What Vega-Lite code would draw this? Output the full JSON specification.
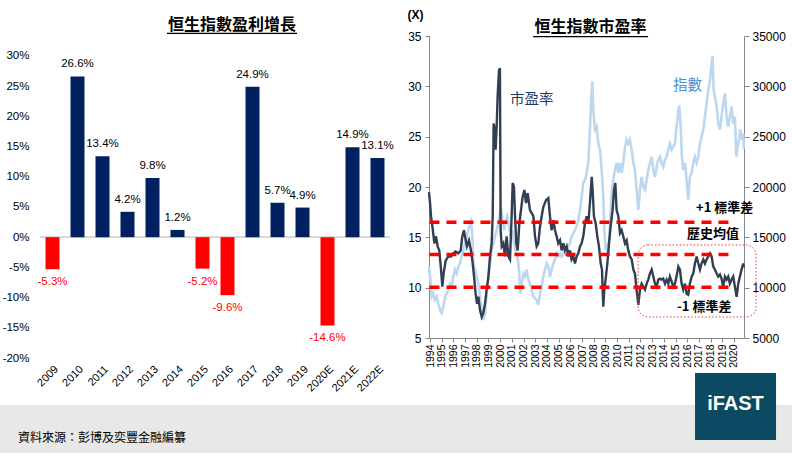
{
  "$schema": "https://vega.github.io/schema/vega-lite/v6.json",
  "padding": {"left": 0, "top": 8, "right": 0, "bottom": 0},
  "bounds": "flush",
  "spacing": 39,
  "datasets": {
    "growth": [
      {"year": "2009", "growth": -0.053},
      {"year": "2010", "growth": 0.266},
      {"year": "2011", "growth": 0.134},
      {"year": "2012", "growth": 0.042},
      {"year": "2013", "growth": 0.098},
      {"year": "2014", "growth": 0.012},
      {"year": "2015", "growth": -0.052},
      {"year": "2016", "growth": -0.096},
      {"year": "2017", "growth": 0.249},
      {"year": "2018", "growth": 0.057},
      {"year": "2019", "growth": 0.049},
      {"year": "2020E", "growth": -0.146},
      {"year": "2021E", "growth": 0.149},
      {"year": "2022E", "growth": 0.131}
    ],
    "levels": [
      {"name": "+1 sd", "level": 16.5},
      {"name": "mean", "level": 13.3},
      {"name": "-1 sd", "level": 10.05}
    ],
    "pe": [
      {"t": 1993.91, "pe": 19.5}, {"t": 1994.0, "pe": 18.4}, {"t": 1994.08, "pe": 17.1}, {"t": 1994.2, "pe": 16.1},
      {"t": 1994.37, "pe": 14.4}, {"t": 1994.51, "pe": 15.1}, {"t": 1994.65, "pe": 14.1}, {"t": 1994.79, "pe": 13.7},
      {"t": 1994.94, "pe": 11.8}, {"t": 1995.05, "pe": 10.1}, {"t": 1995.16, "pe": 11.4}, {"t": 1995.34, "pe": 12.7},
      {"t": 1995.56, "pe": 13.1}, {"t": 1995.79, "pe": 13.1}, {"t": 1995.99, "pe": 13.4}, {"t": 1996.19, "pe": 13.6},
      {"t": 1996.42, "pe": 13.4}, {"t": 1996.62, "pe": 13.7}, {"t": 1996.76, "pe": 15.1}, {"t": 1996.9, "pe": 15.7},
      {"t": 1997.02, "pe": 14.9}, {"t": 1997.16, "pe": 14.1}, {"t": 1997.33, "pe": 14.7}, {"t": 1997.5, "pe": 13.7},
      {"t": 1997.65, "pe": 12.4}, {"t": 1997.79, "pe": 10.8}, {"t": 1997.9, "pe": 9.4}, {"t": 1998.02, "pe": 8.4},
      {"t": 1998.13, "pe": 9.1}, {"t": 1998.27, "pe": 7.8}, {"t": 1998.42, "pe": 7.1}, {"t": 1998.56, "pe": 7.5},
      {"t": 1998.7, "pe": 8.4}, {"t": 1998.84, "pe": 9.8}, {"t": 1998.99, "pe": 11.1}, {"t": 1999.13, "pe": 13.1},
      {"t": 1999.27, "pe": 14.4}, {"t": 1999.36, "pe": 17.1}, {"t": 1999.44, "pe": 26.3}, {"t": 1999.53, "pe": 25.7},
      {"t": 1999.61, "pe": 23.7}, {"t": 1999.7, "pe": 26.0}, {"t": 1999.78, "pe": 29.0}, {"t": 1999.9, "pe": 31.6},
      {"t": 1999.98, "pe": 31.8}, {"t": 2000.04, "pe": 15.7}, {"t": 2000.13, "pe": 14.1}, {"t": 2000.27, "pe": 14.4},
      {"t": 2000.41, "pe": 13.1}, {"t": 2000.55, "pe": 15.1}, {"t": 2000.7, "pe": 13.1}, {"t": 2000.84, "pe": 12.8},
      {"t": 2000.98, "pe": 17.1}, {"t": 2001.07, "pe": 20.4}, {"t": 2001.18, "pe": 20.0}, {"t": 2001.27, "pe": 17.1},
      {"t": 2001.38, "pe": 14.4}, {"t": 2001.5, "pe": 13.7}, {"t": 2001.64, "pe": 16.4}, {"t": 2001.78, "pe": 17.7},
      {"t": 2001.92, "pe": 19.0}, {"t": 2002.07, "pe": 19.7}, {"t": 2002.21, "pe": 18.4}, {"t": 2002.35, "pe": 19.4},
      {"t": 2002.55, "pe": 17.7}, {"t": 2002.84, "pe": 17.1}, {"t": 2002.98, "pe": 15.1}, {"t": 2003.12, "pe": 14.1},
      {"t": 2003.26, "pe": 14.4}, {"t": 2003.41, "pe": 16.1}, {"t": 2003.55, "pe": 17.1}, {"t": 2003.69, "pe": 18.0},
      {"t": 2003.92, "pe": 18.7}, {"t": 2004.12, "pe": 18.9}, {"t": 2004.26, "pe": 17.1}, {"t": 2004.4, "pe": 15.7},
      {"t": 2004.55, "pe": 16.7}, {"t": 2004.69, "pe": 15.7}, {"t": 2004.83, "pe": 15.1}, {"t": 2004.97, "pe": 14.4},
      {"t": 2005.12, "pe": 14.7}, {"t": 2005.26, "pe": 13.7}, {"t": 2005.4, "pe": 14.4}, {"t": 2005.54, "pe": 13.7},
      {"t": 2005.69, "pe": 14.1}, {"t": 2005.83, "pe": 13.1}, {"t": 2005.97, "pe": 13.7}, {"t": 2006.11, "pe": 12.8},
      {"t": 2006.26, "pe": 13.1}, {"t": 2006.4, "pe": 12.4}, {"t": 2006.54, "pe": 13.1}, {"t": 2006.68, "pe": 13.4},
      {"t": 2006.83, "pe": 14.1}, {"t": 2006.97, "pe": 14.4}, {"t": 2007.11, "pe": 15.1}, {"t": 2007.25, "pe": 16.4},
      {"t": 2007.4, "pe": 17.1}, {"t": 2007.54, "pe": 16.4}, {"t": 2007.68, "pe": 18.4}, {"t": 2007.83, "pe": 21.0},
      {"t": 2007.91, "pe": 19.7}, {"t": 2008.02, "pe": 17.1}, {"t": 2008.17, "pe": 16.4}, {"t": 2008.31, "pe": 15.1},
      {"t": 2008.45, "pe": 14.1}, {"t": 2008.6, "pe": 12.4}, {"t": 2008.71, "pe": 11.8}, {"t": 2008.82, "pe": 8.1},
      {"t": 2008.91, "pe": 9.8}, {"t": 2009.02, "pe": 10.8}, {"t": 2009.17, "pe": 12.4}, {"t": 2009.31, "pe": 14.4},
      {"t": 2009.45, "pe": 16.1}, {"t": 2009.62, "pe": 17.7}, {"t": 2009.74, "pe": 19.7}, {"t": 2009.85, "pe": 20.4},
      {"t": 2009.96, "pe": 17.7}, {"t": 2010.11, "pe": 17.1}, {"t": 2010.25, "pe": 15.4}, {"t": 2010.39, "pe": 15.7},
      {"t": 2010.53, "pe": 15.1}, {"t": 2010.68, "pe": 14.4}, {"t": 2010.82, "pe": 14.7}, {"t": 2010.96, "pe": 13.7},
      {"t": 2011.1, "pe": 13.1}, {"t": 2011.25, "pe": 12.8}, {"t": 2011.39, "pe": 11.8}, {"t": 2011.53, "pe": 11.4},
      {"t": 2011.67, "pe": 9.8}, {"t": 2011.82, "pe": 8.3}, {"t": 2011.96, "pe": 9.8}, {"t": 2012.1, "pe": 10.4},
      {"t": 2012.24, "pe": 10.1}, {"t": 2012.39, "pe": 9.8}, {"t": 2012.53, "pe": 10.4}, {"t": 2012.67, "pe": 10.8},
      {"t": 2012.81, "pe": 11.4}, {"t": 2012.96, "pe": 11.8}, {"t": 2013.1, "pe": 11.1}, {"t": 2013.24, "pe": 10.4},
      {"t": 2013.38, "pe": 10.1}, {"t": 2013.53, "pe": 10.8}, {"t": 2013.67, "pe": 10.9}, {"t": 2013.81, "pe": 10.8},
      {"t": 2013.95, "pe": 10.9}, {"t": 2014.1, "pe": 10.4}, {"t": 2014.24, "pe": 10.8}, {"t": 2014.38, "pe": 10.4},
      {"t": 2014.52, "pe": 11.1}, {"t": 2014.67, "pe": 10.6}, {"t": 2014.81, "pe": 10.1}, {"t": 2014.95, "pe": 10.4},
      {"t": 2015.09, "pe": 11.1}, {"t": 2015.24, "pe": 12.1}, {"t": 2015.38, "pe": 11.8}, {"t": 2015.52, "pe": 10.4},
      {"t": 2015.66, "pe": 9.8}, {"t": 2015.81, "pe": 10.4}, {"t": 2015.95, "pe": 9.4}, {"t": 2016.09, "pe": 9.3},
      {"t": 2016.23, "pe": 10.4}, {"t": 2016.38, "pe": 11.1}, {"t": 2016.52, "pe": 11.4}, {"t": 2016.66, "pe": 12.4},
      {"t": 2016.81, "pe": 13.1}, {"t": 2016.95, "pe": 12.4}, {"t": 2017.09, "pe": 11.8}, {"t": 2017.23, "pe": 12.4},
      {"t": 2017.38, "pe": 12.8}, {"t": 2017.52, "pe": 12.4}, {"t": 2017.66, "pe": 12.8}, {"t": 2017.8, "pe": 13.1},
      {"t": 2017.95, "pe": 13.4}, {"t": 2018.09, "pe": 13.1}, {"t": 2018.23, "pe": 12.1}, {"t": 2018.37, "pe": 11.8},
      {"t": 2018.52, "pe": 11.4}, {"t": 2018.66, "pe": 11.1}, {"t": 2018.8, "pe": 11.3}, {"t": 2018.94, "pe": 10.9},
      {"t": 2019.08, "pe": 10.1}, {"t": 2019.23, "pe": 11.1}, {"t": 2019.37, "pe": 10.8}, {"t": 2019.51, "pe": 11.1},
      {"t": 2019.65, "pe": 10.4}, {"t": 2019.8, "pe": 10.8}, {"t": 2019.94, "pe": 11.1}, {"t": 2020.08, "pe": 10.1},
      {"t": 2020.23, "pe": 9.1}, {"t": 2020.37, "pe": 10.4}, {"t": 2020.51, "pe": 11.1}, {"t": 2020.65, "pe": 11.8},
      {"t": 2020.8, "pe": 12.4}, {"t": 2020.85, "pe": 12.0}
    ],
    "hsi": [
      {"t": 1993.91, "idx": 12100}, {"t": 1994.0, "idx": 11100}, {"t": 1994.14, "idx": 9100}, {"t": 1994.28, "idx": 9400},
      {"t": 1994.42, "idx": 8800}, {"t": 1994.57, "idx": 9100}, {"t": 1994.71, "idx": 8400}, {"t": 1994.85, "idx": 7800},
      {"t": 1994.99, "idx": 7500}, {"t": 1995.14, "idx": 8100}, {"t": 1995.28, "idx": 9100}, {"t": 1995.42, "idx": 9400},
      {"t": 1995.56, "idx": 9800}, {"t": 1995.71, "idx": 10400}, {"t": 1995.85, "idx": 10100}, {"t": 1995.99, "idx": 11100},
      {"t": 1996.13, "idx": 11800}, {"t": 1996.28, "idx": 11400}, {"t": 1996.42, "idx": 12100}, {"t": 1996.56, "idx": 12400},
      {"t": 1996.7, "idx": 13100}, {"t": 1996.85, "idx": 13700}, {"t": 1996.99, "idx": 14400}, {"t": 1997.13, "idx": 15100},
      {"t": 1997.27, "idx": 15700}, {"t": 1997.42, "idx": 16400}, {"t": 1997.5, "idx": 16600}, {"t": 1997.62, "idx": 15100},
      {"t": 1997.7, "idx": 12400}, {"t": 1997.85, "idx": 11800}, {"t": 1997.99, "idx": 11100}, {"t": 1998.13, "idx": 10400},
      {"t": 1998.27, "idx": 9100}, {"t": 1998.42, "idx": 7800}, {"t": 1998.56, "idx": 6800}, {"t": 1998.7, "idx": 7500},
      {"t": 1998.84, "idx": 9400}, {"t": 1998.99, "idx": 10800}, {"t": 1999.13, "idx": 12400}, {"t": 1999.27, "idx": 13700},
      {"t": 1999.41, "idx": 14400}, {"t": 1999.56, "idx": 15100}, {"t": 1999.7, "idx": 15700}, {"t": 1999.84, "idx": 16400},
      {"t": 1999.98, "idx": 17400}, {"t": 2000.07, "idx": 17900}, {"t": 2000.18, "idx": 17100}, {"t": 2000.33, "idx": 15700},
      {"t": 2000.47, "idx": 16700}, {"t": 2000.61, "idx": 17100}, {"t": 2000.75, "idx": 16100}, {"t": 2000.9, "idx": 15100},
      {"t": 2001.04, "idx": 15700}, {"t": 2001.18, "idx": 14400}, {"t": 2001.32, "idx": 13700}, {"t": 2001.47, "idx": 13100},
      {"t": 2001.61, "idx": 11800}, {"t": 2001.72, "idx": 9400}, {"t": 2001.84, "idx": 10400}, {"t": 2001.98, "idx": 11400},
      {"t": 2002.12, "idx": 11100}, {"t": 2002.26, "idx": 11800}, {"t": 2002.41, "idx": 10800}, {"t": 2002.55, "idx": 10400},
      {"t": 2002.84, "idx": 9100}, {"t": 2003.12, "idx": 8800}, {"t": 2003.26, "idx": 8300}, {"t": 2003.41, "idx": 9400},
      {"t": 2003.55, "idx": 10100}, {"t": 2003.69, "idx": 11100}, {"t": 2003.83, "idx": 11800}, {"t": 2003.98, "idx": 12400},
      {"t": 2004.12, "idx": 12100}, {"t": 2004.26, "idx": 11100}, {"t": 2004.4, "idx": 11800}, {"t": 2004.55, "idx": 12400},
      {"t": 2004.69, "idx": 12800}, {"t": 2004.83, "idx": 13400}, {"t": 2004.97, "idx": 13100}, {"t": 2005.12, "idx": 13400},
      {"t": 2005.26, "idx": 13100}, {"t": 2005.4, "idx": 13400}, {"t": 2005.54, "idx": 14100}, {"t": 2005.69, "idx": 13700},
      {"t": 2005.83, "idx": 14100}, {"t": 2005.97, "idx": 14400}, {"t": 2006.11, "idx": 15100}, {"t": 2006.26, "idx": 15400},
      {"t": 2006.4, "idx": 15700}, {"t": 2006.54, "idx": 16100}, {"t": 2006.68, "idx": 16700}, {"t": 2006.83, "idx": 17700},
      {"t": 2006.97, "idx": 19000}, {"t": 2007.11, "idx": 20400}, {"t": 2007.25, "idx": 20700}, {"t": 2007.4, "idx": 21400},
      {"t": 2007.54, "idx": 22400}, {"t": 2007.68, "idx": 25700}, {"t": 2007.8, "idx": 29000}, {"t": 2007.88, "idx": 30500},
      {"t": 2007.97, "idx": 27600}, {"t": 2008.11, "idx": 25700}, {"t": 2008.25, "idx": 26000}, {"t": 2008.4, "idx": 24300},
      {"t": 2008.54, "idx": 23700}, {"t": 2008.68, "idx": 21700}, {"t": 2008.82, "idx": 19000}, {"t": 2008.91, "idx": 15700},
      {"t": 2009.02, "idx": 13700}, {"t": 2009.11, "idx": 14400}, {"t": 2009.22, "idx": 13100}, {"t": 2009.34, "idx": 15100},
      {"t": 2009.45, "idx": 17700}, {"t": 2009.56, "idx": 19700}, {"t": 2009.68, "idx": 20700}, {"t": 2009.82, "idx": 21700},
      {"t": 2009.96, "idx": 22400}, {"t": 2010.11, "idx": 21400}, {"t": 2010.25, "idx": 22400}, {"t": 2010.39, "idx": 21400},
      {"t": 2010.53, "idx": 22400}, {"t": 2010.68, "idx": 24000}, {"t": 2010.82, "idx": 24700}, {"t": 2010.96, "idx": 24300},
      {"t": 2011.1, "idx": 24700}, {"t": 2011.25, "idx": 23700}, {"t": 2011.39, "idx": 22400}, {"t": 2011.53, "idx": 21700},
      {"t": 2011.67, "idx": 19700}, {"t": 2011.82, "idx": 17700}, {"t": 2011.96, "idx": 19700}, {"t": 2012.1, "idx": 21000},
      {"t": 2012.24, "idx": 20000}, {"t": 2012.39, "idx": 19700}, {"t": 2012.53, "idx": 20700}, {"t": 2012.67, "idx": 21700},
      {"t": 2012.81, "idx": 22400}, {"t": 2012.96, "idx": 23000}, {"t": 2013.1, "idx": 21700}, {"t": 2013.24, "idx": 21000},
      {"t": 2013.38, "idx": 22000}, {"t": 2013.53, "idx": 22700}, {"t": 2013.67, "idx": 23000}, {"t": 2013.81, "idx": 22400},
      {"t": 2013.95, "idx": 22000}, {"t": 2014.1, "idx": 22700}, {"t": 2014.24, "idx": 23000}, {"t": 2014.38, "idx": 23700},
      {"t": 2014.52, "idx": 24300}, {"t": 2014.67, "idx": 23700}, {"t": 2014.81, "idx": 24000}, {"t": 2014.95, "idx": 24300},
      {"t": 2015.09, "idx": 26000}, {"t": 2015.24, "idx": 27600}, {"t": 2015.32, "idx": 28100}, {"t": 2015.44, "idx": 26000},
      {"t": 2015.55, "idx": 23000}, {"t": 2015.66, "idx": 21700}, {"t": 2015.81, "idx": 22400}, {"t": 2015.95, "idx": 20700},
      {"t": 2016.09, "idx": 18700}, {"t": 2016.23, "idx": 21000}, {"t": 2016.38, "idx": 21400}, {"t": 2016.52, "idx": 22400},
      {"t": 2016.66, "idx": 23000}, {"t": 2016.81, "idx": 22400}, {"t": 2016.95, "idx": 23000}, {"t": 2017.09, "idx": 24300},
      {"t": 2017.23, "idx": 25000}, {"t": 2017.38, "idx": 25700}, {"t": 2017.52, "idx": 27000}, {"t": 2017.66, "idx": 28300},
      {"t": 2017.8, "idx": 29600}, {"t": 2017.95, "idx": 30600}, {"t": 2018.09, "idx": 32300}, {"t": 2018.17, "idx": 33000},
      {"t": 2018.26, "idx": 29600}, {"t": 2018.37, "idx": 29000}, {"t": 2018.52, "idx": 28000}, {"t": 2018.66, "idx": 26300},
      {"t": 2018.8, "idx": 25700}, {"t": 2018.94, "idx": 27000}, {"t": 2019.08, "idx": 28300}, {"t": 2019.23, "idx": 29300},
      {"t": 2019.37, "idx": 27000}, {"t": 2019.51, "idx": 26000}, {"t": 2019.65, "idx": 27000}, {"t": 2019.8, "idx": 28000},
      {"t": 2019.94, "idx": 26300}, {"t": 2020.08, "idx": 27000}, {"t": 2020.2, "idx": 23000}, {"t": 2020.31, "idx": 24000},
      {"t": 2020.43, "idx": 24700}, {"t": 2020.54, "idx": 25700}, {"t": 2020.65, "idx": 24700}, {"t": 2020.8, "idx": 25300},
      {"t": 2020.85, "idx": 23800}
    ]
  },
  "hconcat": [
    {
      "width": 350,
      "height": 322,
      "data": {"name": "growth"},
      "title": {
        "text": "恒生指數盈利增長",
        "font": "Noto Sans CJK TC",
        "fontSize": 16,
        "fontWeight": "bold",
        "color": "#000000",
        "frame": "group",
        "anchor": "middle",
        "dx": 17,
        "offset": 3
      },
      "layer": [
        {
          "mark": {"type": "rule", "color": "#d9d9d9", "strokeWidth": 1},
          "encoding": {
            "y": {
              "datum": 0, "type": "quantitative",
              "axis": {"title": null, "format": ".0%", "labelOverlap": false, "values": [-0.2, -0.15, -0.1, -0.05, 0, 0.05, 0.1, 0.15, 0.2, 0.25, 0.3], "domain": false, "ticks": false, "labelPadding": 11, "labelFontSize": 11.5}
            }
          }
        },
        {
          "mark": {"type": "bar"},
          "encoding": {
            "x": {
              "field": "year", "type": "ordinal", "sort": null,
              "scale": {"paddingInner": 0.44, "paddingOuter": 0.22},
              "axis": {"title": null, "labelAngle": -45, "domain": false, "ticks": false, "labelFontSize": 11, "labelPadding": 5}
            },
            "y": {
              "field": "growth", "type": "quantitative",
              "scale": {"domain": [-0.2, 0.333], "nice": false, "zero": false},
              "axis": {"title": null, "format": ".0%", "labelOverlap": false, "values": [-0.2, -0.15, -0.1, -0.05, 0, 0.05, 0.1, 0.15, 0.2, 0.25, 0.3], "domain": false, "ticks": false, "labelPadding": 11, "labelFontSize": 11.5}
            },
            "color": {"condition": {"test": "datum.growth < 0", "value": "#ff0000"}, "value": "#002060"}
          }
        },
        {
          "transform": [{"filter": "datum.growth >= 0"}],
          "mark": {"type": "text", "baseline": "middle", "dy": -12, "fontSize": 11.5, "color": "#000000"},
          "encoding": {
            "x": {
              "field": "year", "type": "ordinal", "sort": null,
              "axis": {"title": null, "labelAngle": -45, "domain": false, "ticks": false, "labelFontSize": 11, "labelPadding": 5}
            },
            "y": {
              "field": "growth", "type": "quantitative",
              "axis": {"title": null, "format": ".0%", "labelOverlap": false, "values": [-0.2, -0.15, -0.1, -0.05, 0, 0.05, 0.1, 0.15, 0.2, 0.25, 0.3], "domain": false, "ticks": false, "labelPadding": 11, "labelFontSize": 11.5}
            },
            "text": {"field": "growth", "format": ".1%"}
          }
        },
        {
          "transform": [{"filter": "datum.growth < 0"}],
          "mark": {"type": "text", "baseline": "middle", "dy": 13, "fontSize": 11.5, "color": "#ff0000"},
          "encoding": {
            "x": {
              "field": "year", "type": "ordinal", "sort": null,
              "axis": {"title": null, "labelAngle": -45, "domain": false, "ticks": false, "labelFontSize": 11, "labelPadding": 5}
            },
            "y": {
              "field": "growth", "type": "quantitative",
              "axis": {"title": null, "format": ".0%", "labelOverlap": false, "values": [-0.2, -0.15, -0.1, -0.05, 0, 0.05, 0.1, 0.15, 0.2, 0.25, 0.3], "domain": false, "ticks": false, "labelPadding": 11, "labelFontSize": 11.5}
            },
            "text": {"field": "growth", "format": ".1%"}
          }
        }
      ]
    },
    {
      "width": 315,
      "height": 302,
      "title": {
        "text": "恒生指數市盈率",
        "font": "Noto Sans CJK TC",
        "fontSize": 16,
        "fontWeight": "bold",
        "color": "#000000",
        "frame": "group",
        "anchor": "middle",
        "dx": 4,
        "offset": -27
      },
      "layer": [
        {
          "data": {"name": "hsi"},
          "mark": {"type": "line", "color": "#bdd7ee", "strokeWidth": 2.6},
          "encoding": {
            "x": {
              "field": "t", "type": "quantitative",
              "scale": {"domain": [1993.91, 2020.86], "nice": false, "zero": false},
              "axis": {"title": null, "format": "d", "values": [1994, 1995, 1996, 1997, 1998, 1999, 2000, 2001, 2002, 2003, 2004, 2005, 2006, 2007, 2008, 2009, 2010, 2011, 2012, 2013, 2014, 2015, 2016, 2017, 2018, 2019, 2020], "labelAngle": 270, "labelFontSize": 10.5, "tickSize": 4, "labelPadding": 2, "labelOverlap": false}
            },
            "y": {
              "field": "idx", "type": "quantitative",
              "scale": {"domain": [5000, 35000], "nice": false, "zero": false},
              "axis": {
                "orient": "right", "title": null, "format": "d",
                "values": [5000, 10000, 15000, 20000, 25000, 30000, 35000],
                "tickSize": 5, "labelPadding": 3, "labelFontSize": 12
              }
            }
          }
        },
        {
          "data": {"name": "pe"},
          "mark": {"type": "line", "color": "#323e52", "strokeWidth": 2.4},
          "encoding": {
            "x": {
              "field": "t", "type": "quantitative",
              "axis": {"title": null, "format": "d", "values": [1994, 1995, 1996, 1997, 1998, 1999, 2000, 2001, 2002, 2003, 2004, 2005, 2006, 2007, 2008, 2009, 2010, 2011, 2012, 2013, 2014, 2015, 2016, 2017, 2018, 2019, 2020], "labelAngle": 270, "labelFontSize": 10.5, "tickSize": 4, "labelPadding": 2, "labelOverlap": false}
            },
            "y": {
              "field": "pe", "type": "quantitative",
              "scale": {"domain": [5, 35], "nice": false, "zero": false},
              "axis": {
                "orient": "left", "values": [5, 10, 15, 20, 25, 30, 35],
                "tickSize": 4, "labelPadding": 4, "labelFontSize": 12,
                "title": "(X)", "titleAngle": 0, "titleX": -22, "titleY": -22,
                "titleAlign": "left", "titleBaseline": "middle",
                "titleFontSize": 12, "titleFontWeight": "bold", "titleFont": "Liberation Sans", "titleColor": "#000000"
              }
            }
          }
        },
        {
          "data": {"name": "levels"},
          "mark": {"type": "rule", "color": "#ff0000", "strokeWidth": 3.5, "strokeDash": [10, 7]},
          "encoding": {
            "x": {"datum": 1993.95, "type": "quantitative", "axis": {"title": null, "format": "d", "values": [1994, 1995, 1996, 1997, 1998, 1999, 2000, 2001, 2002, 2003, 2004, 2005, 2006, 2007, 2008, 2009, 2010, 2011, 2012, 2013, 2014, 2015, 2016, 2017, 2018, 2019, 2020], "labelAngle": 270, "labelFontSize": 10.5, "tickSize": 4, "labelPadding": 2, "labelOverlap": false}},
            "x2": {"datum": 2020.0},
            "y": {"field": "level", "type": "quantitative", "scale": {"domain": [5, 35], "nice": false, "zero": false}, "axis": null}
          }
        },
        {
          "data": {"values": [{}]},
          "mark": {"type": "rect", "cornerRadius": 10, "fillOpacity": 0, "stroke": "#e03c3c", "strokeWidth": 1, "strokeDash": [1.5, 2]},
          "encoding": {
            "x": {"datum": 2011.8, "type": "quantitative", "axis": {"title": null, "format": "d", "values": [1994, 1995, 1996, 1997, 1998, 1999, 2000, 2001, 2002, 2003, 2004, 2005, 2006, 2007, 2008, 2009, 2010, 2011, 2012, 2013, 2014, 2015, 2016, 2017, 2018, 2019, 2020], "labelAngle": 270, "labelFontSize": 10.5, "tickSize": 4, "labelPadding": 2, "labelOverlap": false}},
            "x2": {"datum": 2021.89},
            "y": {"datum": 14.24, "type": "quantitative", "scale": {"domain": [5, 35], "nice": false, "zero": false}, "axis": null},
            "y2": {"datum": 7.09}
          }
        },
        {
          "data": {"values": [{}]},
          "mark": {"type": "text", "text": "市盈率", "font": "Noto Sans CJK TC", "fontSize": 14.5, "color": "#1f3864", "align": "left", "baseline": "middle"},
          "encoding": {
            "x": {"datum": 2000.84, "type": "quantitative", "axis": {"title": null, "format": "d", "values": [1994, 1995, 1996, 1997, 1998, 1999, 2000, 2001, 2002, 2003, 2004, 2005, 2006, 2007, 2008, 2009, 2010, 2011, 2012, 2013, 2014, 2015, 2016, 2017, 2018, 2019, 2020], "labelAngle": 270, "labelFontSize": 10.5, "tickSize": 4, "labelPadding": 2, "labelOverlap": false}},
            "y": {"datum": 28.63, "type": "quantitative", "scale": {"domain": [5, 35], "nice": false, "zero": false}, "axis": null}
          }
        },
        {
          "data": {"values": [{}]},
          "mark": {"type": "text", "text": "指數", "font": "Noto Sans CJK TC", "fontSize": 14.5, "color": "#4a8ed3", "align": "left", "baseline": "middle"},
          "encoding": {
            "x": {"datum": 2014.78, "type": "quantitative", "axis": {"title": null, "format": "d", "values": [1994, 1995, 1996, 1997, 1998, 1999, 2000, 2001, 2002, 2003, 2004, 2005, 2006, 2007, 2008, 2009, 2010, 2011, 2012, 2013, 2014, 2015, 2016, 2017, 2018, 2019, 2020], "labelAngle": 270, "labelFontSize": 10.5, "tickSize": 4, "labelPadding": 2, "labelOverlap": false}},
            "y": {"datum": 30.03, "type": "quantitative", "scale": {"domain": [5, 35], "nice": false, "zero": false}, "axis": null}
          }
        },
        {
          "data": {"values": [{}]},
          "mark": {"type": "text", "text": "+1 標準差", "font": "Noto Sans CJK TC", "fontSize": 13, "fontWeight": "bold", "color": "#000000", "align": "left", "baseline": "middle"},
          "encoding": {
            "x": {"datum": 2016.75, "type": "quantitative", "axis": {"title": null, "format": "d", "values": [1994, 1995, 1996, 1997, 1998, 1999, 2000, 2001, 2002, 2003, 2004, 2005, 2006, 2007, 2008, 2009, 2010, 2011, 2012, 2013, 2014, 2015, 2016, 2017, 2018, 2019, 2020], "labelAngle": 270, "labelFontSize": 10.5, "tickSize": 4, "labelPadding": 2, "labelOverlap": false}},
            "y": {"datum": 17.88, "type": "quantitative", "scale": {"domain": [5, 35], "nice": false, "zero": false}, "axis": null}
          }
        },
        {
          "data": {"values": [{}]},
          "mark": {"type": "text", "text": "歷史均值", "font": "Noto Sans CJK TC", "fontSize": 13, "fontWeight": "bold", "color": "#000000", "align": "left", "baseline": "middle"},
          "encoding": {
            "x": {"datum": 2015.98, "type": "quantitative", "axis": {"title": null, "format": "d", "values": [1994, 1995, 1996, 1997, 1998, 1999, 2000, 2001, 2002, 2003, 2004, 2005, 2006, 2007, 2008, 2009, 2010, 2011, 2012, 2013, 2014, 2015, 2016, 2017, 2018, 2019, 2020], "labelAngle": 270, "labelFontSize": 10.5, "tickSize": 4, "labelPadding": 2, "labelOverlap": false}},
            "y": {"datum": 15.33, "type": "quantitative", "scale": {"domain": [5, 35], "nice": false, "zero": false}, "axis": null}
          }
        },
        {
          "data": {"values": [{}]},
          "mark": {"type": "text", "text": "-1 標準差", "font": "Noto Sans CJK TC", "fontSize": 13, "fontWeight": "bold", "color": "#000000", "align": "left", "baseline": "middle"},
          "encoding": {
            "x": {"datum": 2015.13, "type": "quantitative", "axis": {"title": null, "format": "d", "values": [1994, 1995, 1996, 1997, 1998, 1999, 2000, 2001, 2002, 2003, 2004, 2005, 2006, 2007, 2008, 2009, 2010, 2011, 2012, 2013, 2014, 2015, 2016, 2017, 2018, 2019, 2020], "labelAngle": 270, "labelFontSize": 10.5, "tickSize": 4, "labelPadding": 2, "labelOverlap": false}},
            "y": {"datum": 8.11, "type": "quantitative", "scale": {"domain": [5, 35], "nice": false, "zero": false}, "axis": null}
          }
        },
        {
          "data": {"values": [{}]},
          "mark": {"type": "rule", "color": "#000000", "strokeWidth": 1.2},
          "encoding": {
            "x": {"datum": 2002.81, "type": "quantitative", "axis": {"title": null, "format": "d", "values": [1994, 1995, 1996, 1997, 1998, 1999, 2000, 2001, 2002, 2003, 2004, 2005, 2006, 2007, 2008, 2009, 2010, 2011, 2012, 2013, 2014, 2015, 2016, 2017, 2018, 2019, 2020], "labelAngle": 270, "labelFontSize": 10.5, "tickSize": 4, "labelPadding": 2, "labelOverlap": false}},
            "x2": {"datum": 2012.65},
            "y": {"datum": 34.93, "type": "quantitative", "scale": {"domain": [5, 35], "nice": false, "zero": false}, "axis": null}
          }
        },
        {
          "data": {"values": [{}]},
          "mark": {"type": "rule", "color": "#000000", "strokeWidth": 1.2},
          "encoding": {
            "x": {"datum": 1971.49, "type": "quantitative", "axis": {"title": null, "format": "d", "values": [1994, 1995, 1996, 1997, 1998, 1999, 2000, 2001, 2002, 2003, 2004, 2005, 2006, 2007, 2008, 2009, 2010, 2011, 2012, 2013, 2014, 2015, 2016, 2017, 2018, 2019, 2020], "labelAngle": 270, "labelFontSize": 10.5, "tickSize": 4, "labelPadding": 2, "labelOverlap": false}},
            "x2": {"datum": 1982.62},
            "y": {"datum": 35.27, "type": "quantitative", "scale": {"domain": [5, 35], "nice": false, "zero": false}, "axis": null}
          }
        },
        {
          "data": {"values": [{}]},
          "mark": {"type": "rect", "color": "#e8e8e8"},
          "encoding": {
            "x": {"datum": 1957.21, "type": "quantitative", "axis": {"title": null, "format": "d", "values": [1994, 1995, 1996, 1997, 1998, 1999, 2000, 2001, 2002, 2003, 2004, 2005, 2006, 2007, 2008, 2009, 2010, 2011, 2012, 2013, 2014, 2015, 2016, 2017, 2018, 2019, 2020], "labelAngle": 270, "labelFontSize": 10.5, "tickSize": 4, "labelPadding": 2, "labelOverlap": false}},
            "x2": {"datum": 2024.97},
            "y": {"datum": -1.655, "type": "quantitative", "scale": {"domain": [5, 35], "nice": false, "zero": false}, "axis": null},
            "y2": {"datum": -6.42}
          }
        },
        {
          "data": {"values": [{}]},
          "mark": {"type": "text", "text": "資料來源：彭博及奕豐金融編纂", "font": "Noto Sans CJK TC", "fontSize": 12, "color": "#000000", "align": "left", "baseline": "middle"},
          "encoding": {
            "x": {"datum": 1958.75, "type": "quantitative", "axis": {"title": null, "format": "d", "values": [1994, 1995, 1996, 1997, 1998, 1999, 2000, 2001, 2002, 2003, 2004, 2005, 2006, 2007, 2008, 2009, 2010, 2011, 2012, 2013, 2014, 2015, 2016, 2017, 2018, 2019, 2020], "labelAngle": 270, "labelFontSize": 10.5, "tickSize": 4, "labelPadding": 2, "labelOverlap": false}},
            "y": {"datum": -4.93, "type": "quantitative", "scale": {"domain": [5, 35], "nice": false, "zero": false}, "axis": null}
          }
        },
        {
          "data": {"values": [{}]},
          "mark": {"type": "rect", "color": "#0b4a63"},
          "encoding": {
            "x": {"datum": 2016.67, "type": "quantitative", "axis": {"title": null, "format": "d", "values": [1994, 1995, 1996, 1997, 1998, 1999, 2000, 2001, 2002, 2003, 2004, 2005, 2006, 2007, 2008, 2009, 2010, 2011, 2012, 2013, 2014, 2015, 2016, 2017, 2018, 2019, 2020], "labelAngle": 270, "labelFontSize": 10.5, "tickSize": 4, "labelPadding": 2, "labelOverlap": false}},
            "x2": {"datum": 2023.6},
            "y": {"datum": 1.523, "type": "quantitative", "scale": {"domain": [5, 35], "nice": false, "zero": false}, "axis": null},
            "y2": {"datum": -5.13}
          }
        },
        {
          "data": {"values": [{}]},
          "mark": {"type": "text", "text": "iFAST", "font": "Liberation Sans", "fontSize": 20, "fontWeight": "bold", "color": "#ffffff", "align": "center", "baseline": "middle"},
          "encoding": {
            "x": {"datum": 2020.13, "type": "quantitative", "axis": {"title": null, "format": "d", "values": [1994, 1995, 1996, 1997, 1998, 1999, 2000, 2001, 2002, 2003, 2004, 2005, 2006, 2007, 2008, 2009, 2010, 2011, 2012, 2013, 2014, 2015, 2016, 2017, 2018, 2019, 2020], "labelAngle": 270, "labelFontSize": 10.5, "tickSize": 4, "labelPadding": 2, "labelOverlap": false}},
            "y": {"datum": -1.556, "type": "quantitative", "scale": {"domain": [5, 35], "nice": false, "zero": false}, "axis": null}
          }
        }
      ],
      "resolve": {"scale": {"y": "independent"}}
    }
  ],
  "config": {
    "view": {"stroke": null},
    "font": "Liberation Sans",
    "axis": {
      "grid": false,
      "labelColor": "#000000",
      "labelFont": "Liberation Sans",
      "domainColor": "#868686",
      "tickColor": "#868686"
    },
    "locale": {
      "number": {"decimal": ".", "thousands": ",", "grouping": [3], "currency": ["$", ""], "minus": "-"}
    }
  }
}
